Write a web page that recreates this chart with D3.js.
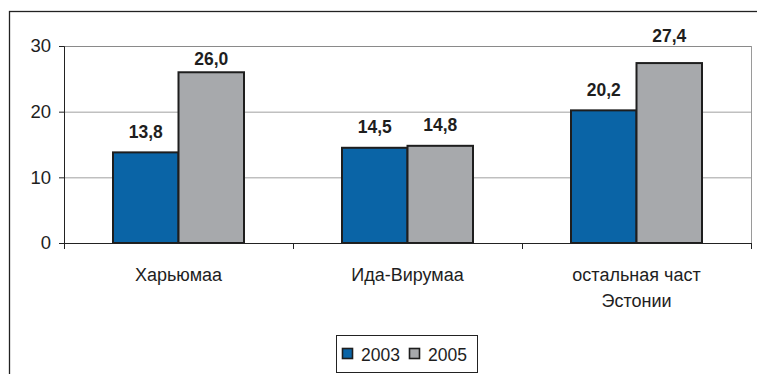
<!DOCTYPE html>
<html>
<head>
<meta charset="utf-8">
<script src="https://cdn.jsdelivr.net/npm/d3@7/dist/d3.min.js"></script>
<style>
  html, body { margin: 0; padding: 0; background: #fff; }
  svg { display: block; font-family: "Liberation Sans", Arial, sans-serif; }
</style>
</head>
<body>
<svg id="chart" width="757" height="374"></svg>
<script>
// Regions and yearly values
const categories = ["Харьюмаа", "Ида-Вирумаа", "остальная част\nЭстонии"];
const years = ["2003", "2005"];
const values2003 = [13.8, 14.5, 20.2];
const values2005 = [26.0, 14.8, 27.4];
const yTicks = [0, 10, 20, 30];

const colors = { "2003": "#0a64a6", "2005": "#a7a9ac" };
const seriesValues = { "2003": values2003, "2005": values2005 };

// value-label placement: default gap above the bar, with a few labels nudged
// so they clear the top gridline
const labelGap = 14.5;
const labelNudge = { "0-2005": 7.5, "2-2005": -6.5 };

const svg = d3.select("#chart");
const plot = { left: 64, right: 751, top: 46, bottom: 243 };

// outer frame
svg.append("rect")
  .attr("x", 9.5).attr("y", 11.5)
  .attr("width", 760).attr("height", 400)
  .attr("fill", "none").attr("stroke", "#222").attr("stroke-width", 1.3);

const x0 = d3.scaleBand().domain(categories).range([plot.left, plot.right]).paddingInner(0).paddingOuter(0);
const groupPad = 49;
const x1 = d3.scaleBand().domain(years)
  .range([groupPad, x0.bandwidth() - groupPad]).padding(0);
const y = d3.scaleLinear().domain([0, 30]).range([plot.bottom, plot.top]);

// gridlines
svg.append("g").selectAll("line").data(yTicks.filter(t => t > 0)).join("line")
  .attr("x1", plot.left).attr("x2", plot.right)
  .attr("y1", d => y(d) + 0.5).attr("y2", d => y(d) + 0.5)
  .attr("stroke", d => d === 30 ? "#8a8a8a" : "#a0a0a0").attr("stroke-width", 1);

// right plot border
svg.append("line")
  .attr("x1", plot.right + 0.5).attr("x2", plot.right + 0.5)
  .attr("y1", plot.top).attr("y2", plot.bottom)
  .attr("stroke", "#9a9a9a");

// bars
const groups = svg.append("g").selectAll("g").data(categories).join("g")
  .attr("transform", d => `translate(${x0(d)},0)`);

const groupData = (c, i) => years.map(yr => ({ yr, i, v: seriesValues[yr][i] }));

groups.selectAll("rect")
  .data(groupData)
  .join("rect")
  .attr("x", d => x1(d.yr))
  .attr("y", d => y(d.v))
  .attr("width", x1.bandwidth())
  .attr("height", d => y(0) - y(d.v))
  .attr("fill", d => colors[d.yr])
  .attr("stroke", "#1e1e1e").attr("stroke-width", 2);

groups.selectAll("text.val")
  .data(groupData)
  .join("text").attr("class", "val")
  .attr("x", d => x1(d.yr) + x1.bandwidth() / 2)
  .attr("y", d => y(d.v) - labelGap + (labelNudge[`${d.i}-${d.yr}`] || 0))
  .attr("text-anchor", "middle")
  .attr("font-size", 17.5).attr("font-weight", "bold").attr("fill", "#1e1e1e")
  .text(d => d.v.toFixed(1).replace(".", ","));

// y axis
const yAxis = d3.axisLeft(y).tickValues(yTicks).tickSize(5).tickPadding(8);
const gy = svg.append("g").attr("transform", `translate(${plot.left},0)`).call(yAxis);
gy.select(".domain").attr("stroke", "#222");
gy.selectAll(".tick line").attr("stroke", "#222");
gy.selectAll(".tick text").attr("font-size", 18.5).attr("fill", "#1e1e1e")
  .attr("font-family", "Liberation Sans, Arial, sans-serif");

// x axis
const gx = svg.append("g").attr("transform", `translate(0,${plot.bottom})`);
gx.append("line").attr("x1", plot.left).attr("x2", plot.right + 1)
  .attr("y1", 0.5).attr("y2", 0.5).attr("stroke", "#222");
const tickXs = [plot.left].concat(categories.map(c => x0(c) + x0.bandwidth()));
gx.selectAll("line.tk").data(tickXs).join("line").attr("class", "tk")
  .attr("x1", d => Math.round(d) + 0.5).attr("x2", d => Math.round(d) + 0.5)
  .attr("y1", 0).attr("y2", 6).attr("stroke", "#222");

gx.selectAll("text.cat").data(categories).join("text").attr("class", "cat")
  .attr("text-anchor", "middle")
  .attr("font-size", 18).attr("fill", "#1e1e1e")
  .each(function(d) {
    const t = d3.select(this);
    d.split("\n").forEach((line, i) => {
      t.append("tspan")
        .attr("x", x0(d) + x0.bandwidth() / 2)
        .attr("y", 38 + i * 26)
        .text(line);
    });
  });

// legend
const lg = svg.append("g").attr("transform", "translate(336,335)");
lg.append("rect").attr("x", 0.5).attr("y", 0.5).attr("width", 141).attr("height", 37)
  .attr("fill", "#fff").attr("stroke", "#222");
const items = lg.selectAll("g").data(years).join("g")
  .attr("transform", (d, i) => `translate(${6 + i * 67},0)`);
items.append("rect").attr("x", 0.5).attr("y", 13.5).attr("width", 10).attr("height", 10)
  .attr("fill", d => colors[d]).attr("stroke", "#1e1e1e").attr("stroke-width", 1.6);
items.append("text").attr("x", 19).attr("y", 25.5)
  .attr("font-size", 17.5).attr("fill", "#1e1e1e").text(d => d);
</script>
</body>
</html>
